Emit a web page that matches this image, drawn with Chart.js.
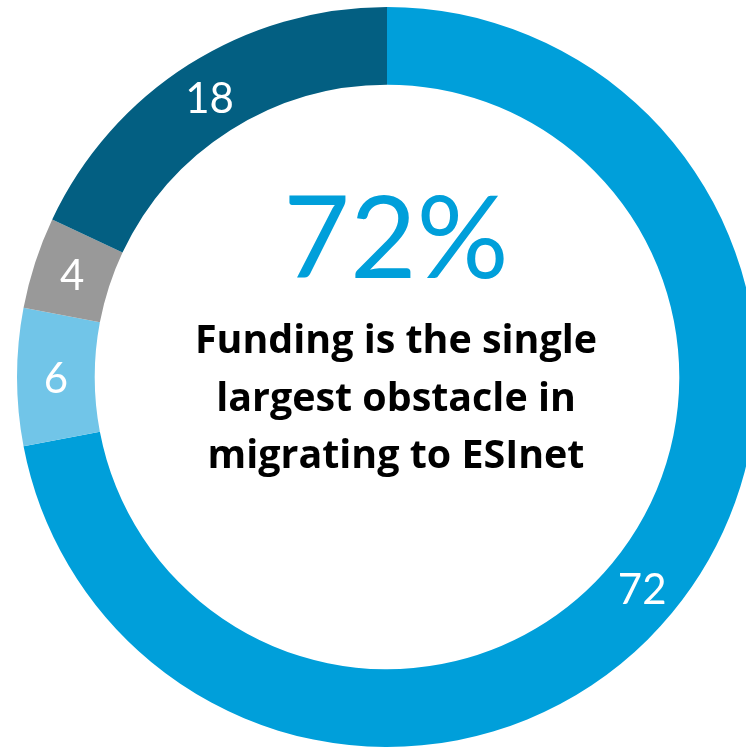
<!DOCTYPE html>
<html>
<head>
<meta charset="utf-8">
<script src="https://cdn.jsdelivr.net/npm/chart.js@4/dist/chart.umd.min.js"></script>
<style>
html,body{margin:0;padding:0;background:#fff;overflow:hidden;width:746px;height:747px;}
#wrap{position:absolute;left:0;top:7px;width:774px;height:740px;}
</style>
</head>
<body>
<div id="wrap"><canvas id="c" width="774" height="740"></canvas></div>
<script>
const categories = ["Funding", "Option B", "Option C", "Option D"];
const values = [72, 6, 4, 18];
const colors = ["#009FDA", "#71C5E8", "#999999", "#035F82"];
const headline = "72%";
const captionLines = ["Funding is the single", "largest obstacle in", "migrating to ESInet"];

const labelPlugin = {
  id: "labels",
  afterDatasetsDraw(chart) {
    const ctx = chart.ctx;
    const meta = chart.getDatasetMeta(0);
    ctx.save();
    ctx.fillStyle = "#ffffff";
    ctx.font = "42px Lato, 'Open Sans', sans-serif";
    ctx.textAlign = "center";
    ctx.textBaseline = "middle";
    meta.data.forEach((arc, i) => {
      const p = arc.tooltipPosition();
      ctx.fillText(String(values[i]), p.x, p.y + 2);
    });
    // center text
    const cx = (chart.chartArea.left + chart.chartArea.right) / 2 + 9;
    const cy = (chart.chartArea.top + chart.chartArea.bottom) / 2;
    ctx.textBaseline = "alphabetic";
    ctx.fillStyle = "#009FDA";
    ctx.font = "115px Lato, 'Open Sans', sans-serif";
    ctx.fillText(headline, cx, cy - 99);
    ctx.fillStyle = "#000000";
    let fs = 40;
    ctx.font = "bold " + fs + "px 'Open Sans', Lato, sans-serif";
    const w = ctx.measureText(captionLines[0]).width;
    fs = fs * 402 / w;
    ctx.font = "bold " + fs.toFixed(1) + "px 'Open Sans', Lato, sans-serif";
    captionLines.forEach((t, i) => {
      ctx.fillText(t, cx, cy - 24 + i * 57.5);
    });
    ctx.restore();
  }
};

new Chart(document.getElementById("c"), {
  type: "doughnut",
  data: {
    labels: categories,
    datasets: [{
      data: values,
      backgroundColor: colors,
      borderWidth: 0
    }]
  },
  options: {
    responsive: false,
    animation: false,
    devicePixelRatio: 1,
    cutout: "79%",
    layout: { padding: 0 },
    plugins: { legend: { display: false }, tooltip: { enabled: false } }
  },
  plugins: [labelPlugin]
});
</script>
</body>
</html>
